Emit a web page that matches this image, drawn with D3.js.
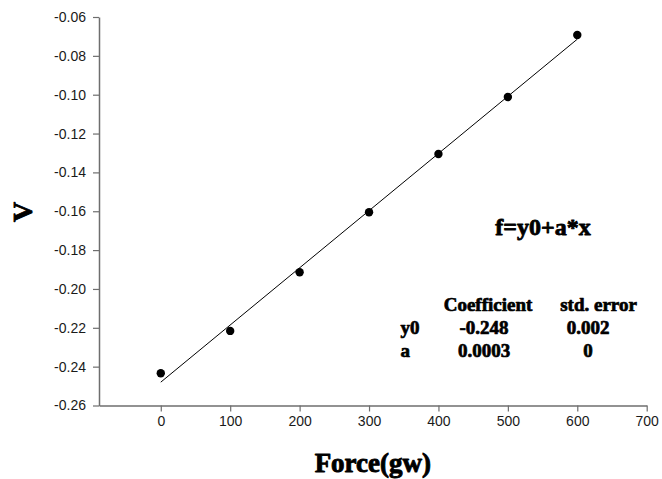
<!DOCTYPE html>
<html>
<head>
<meta charset="utf-8">
<script src="https://cdn.jsdelivr.net/npm/d3@7"></script>
<style>
  html, body { margin: 0; padding: 0; background: #fff; }
  svg { display: block; }
</style>
</head>
<body>
<svg id="chart" width="662" height="479"></svg>
<script>
// ---- data ----
const forceX = [0, 100, 200, 300, 400, 500, 600];
const voltageY = [-0.2434, -0.2216, -0.1914, -0.1605, -0.1305, -0.1012, -0.0693];
const xTicks = [0, 100, 200, 300, 400, 500, 600, 700];
const yTicks = [-0.26, -0.24, -0.22, -0.20, -0.18, -0.16, -0.14, -0.12, -0.10, -0.08, -0.06];
const equationText = "f=y0+a*x";
const tableHeader = ["Coefficient", "std. error"];
const tableRowNames = ["y0", "a"];
const tableCoef = ["-0.248", "0.0003"];
const tableErr = ["0.002", "0"];
const xTitle = "Force(gw)";
const yTitle = "V";

// ---- layout ----
const svg = d3.select("#chart");
const mLeft = 99, mRight = 646.7, mTop = 17, mBottom = 405.5;

const x = d3.scaleLinear().domain([-89, 700]).range([mLeft, mRight]);
const y = d3.scaleLinear().domain([-0.26, -0.06]).range([mBottom, mTop]);

const axisColor = "#6e6e6e";
const tickFont = "'Liberation Sans', Arial, sans-serif";
const serif = "'Liberation Serif', 'Times New Roman', serif";
const yFmt = d => d3.format(".2f")(d).replace("\u2212", "-");

// x axis
const xAxis = svg.append("g").attr("transform", `translate(0,${mBottom})`)
  .call(d3.axisBottom(x).tickValues(xTicks).tickFormat(d3.format("d")).tickSizeInner(6).tickSizeOuter(0).tickPadding(5));
// y axis
const yAxis = svg.append("g").attr("transform", `translate(${mLeft},0)`)
  .call(d3.axisLeft(y).tickValues(yTicks).tickFormat(yFmt).tickSizeInner(6).tickSizeOuter(0).tickPadding(7));

[xAxis, yAxis].forEach(g => {
  g.select(".domain").attr("stroke", axisColor).attr("stroke-width", 1.5);
  g.selectAll(".tick line").attr("stroke", axisColor).attr("stroke-width", 1.2);
  g.selectAll(".tick text").attr("fill", "#1a1a1a").style("font-family", tickFont).style("font-size", "14px");
});

// ---- regression line ----
const mx = d3.mean(forceX), my = d3.mean(voltageY);
const sxy = d3.sum(forceX.map((v, i) => (v - mx) * (voltageY[i] - my)));
const sxx = d3.sum(forceX.map(v => (v - mx) * (v - mx)));
const slope = sxy / sxx, intercept = my - slope * mx;
const ext = d3.extent(forceX);
svg.append("line")
  .attr("x1", x(ext[0])).attr("y1", y(intercept + slope * ext[0]))
  .attr("x2", x(ext[1])).attr("y2", y(intercept + slope * ext[1]))
  .attr("stroke", "#000").attr("stroke-width", 1);

// ---- points ----
svg.append("g").selectAll("circle").data(forceX).join("circle")
  .attr("cx", d => x(d)).attr("cy", (d, i) => y(voltageY[i])).attr("r", 4.2)
  .attr("fill", "#000");

// heavy serif text helper
function heavy(sel, w) {
  return sel.style("font-family", serif).style("font-weight", "bold")
    .attr("fill", "#000").attr("stroke", "#000").attr("stroke-width", w)
    .attr("stroke-linejoin", "round");
}

// ---- titles ----
heavy(svg.append("text").attr("x", (mLeft + mRight) / 2).attr("y", 472)
  .attr("text-anchor", "middle").style("font-size", "27px"), 0.9).text(xTitle);

heavy(svg.append("text").attr("transform", "translate(32,212) rotate(-90)")
  .attr("text-anchor", "middle").style("font-size", "28px"), 0.9).text(yTitle);

// ---- annotation ----
heavy(svg.append("text").attr("x", 543).attr("y", 235)
  .attr("text-anchor", "middle").style("font-size", "24px"), 0.8).text(equationText);

const tb = svg.append("g").style("font-size", "19px");
const rowY = [310.5, 333.5, 356.5];
heavy(tb.append("text").attr("x", 488).attr("y", rowY[0]).attr("text-anchor", "middle"), 0.7).text(tableHeader[0]);
heavy(tb.append("text").attr("x", 598.5).attr("y", rowY[0]).attr("text-anchor", "middle"), 0.7).text(tableHeader[1]);
tableRowNames.forEach((r, i) => {
  heavy(tb.append("text").attr("x", 400.5).attr("y", rowY[i + 1]), 0.7).text(r);
  heavy(tb.append("text").attr("x", 484).attr("y", rowY[i + 1]).attr("text-anchor", "middle"), 0.7).text(tableCoef[i]);
  heavy(tb.append("text").attr("x", 588).attr("y", rowY[i + 1]).attr("text-anchor", "middle"), 0.7).text(tableErr[i]);
});
</script>
</body>
</html>
